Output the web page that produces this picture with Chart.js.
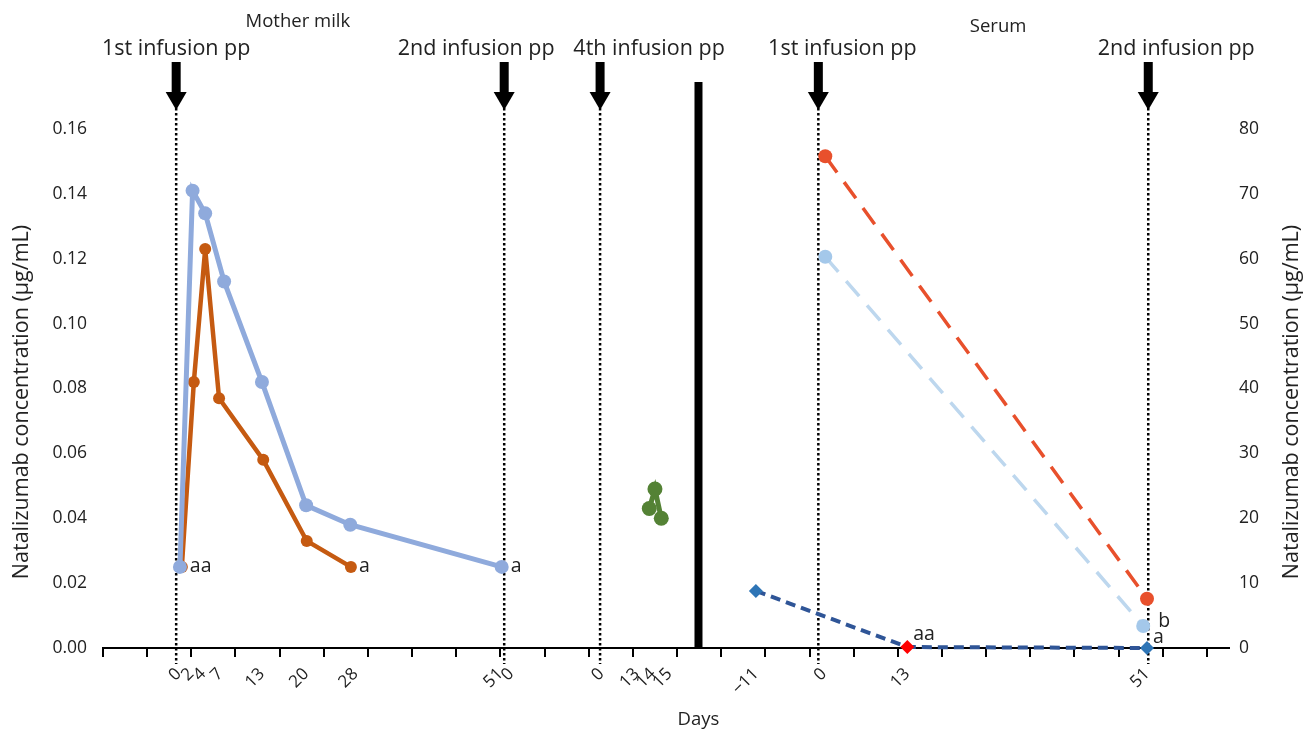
<!DOCTYPE html>
<html>
<head>
<meta charset="utf-8">
<script src="https://cdn.jsdelivr.net/npm/chart.js@4.4.1/dist/chart.umd.min.js"></script>
<style>
  html, body { margin: 0; padding: 0; background: #fff; }
</style>
</head>
<body>
<canvas id="natGraph" width="1307" height="732"></canvas>
<script>
// x is one shared "days" axis; each panel starts at its own place on it
const milkStart = 12.2;
const serumStart = 114.5;

// mother milk
const milkBlueDays = [0, 2, 4, 7, 13, 20, 27, 51];
const milkBlue = [0.025, 0.141, 0.134, 0.113, 0.082, 0.044, 0.038, 0.025];
const milkOrangeDays = [0.3, 2.2, 4, 6.2, 13.2, 20.1, 27.1];
const milkOrange = [0.025, 0.082, 0.123, 0.077, 0.058, 0.033, 0.025];
// after 4th infusion (axis positions)
const fourthGreenX = [86.6, 87.5, 88.5];
const fourthGreen = [0.043, 0.049, 0.040];

// serum (right axis)
const serumRedDays = [0, 51];
const serumRed = [75.8, 7.6];
const serumLightDays = [0, 50.4];
const serumLight = [60.3, 3.4];
const serumBlueDays = [-11, 13, 51];
const serumBlue = [8.8, 0.15, 0];

// day labels under the axis (axis positions)
const dayLabels = ["0", "2", "4", "7", "13", "20", "28", "51", "0", "0", "13", "14", "15", "\u221211", "0", "13", "51"];
const dayLabelPos = [12.0, 14.0, 15.9, 18.6, 25.2, 32.2, 40.0, 63.0, 64.7, 79.0, 84.6, 87.2, 89.8, 103.5, 114.3, 127.5, 165.5];

// infusions
const infusionPos = [11.6, 63.6, 78.8, 113.4, 165.7];
const infusionText = ["1st infusion pp", "2nd infusion pp", "4th infusion pp", "1st infusion pp", "2nd infusion pp"];
const dividerPos = 94.4;

const pts = (xs, ys, start) => xs.map((d, i) => ({ x: start + d, y: ys[i] }));

Chart.defaults.font.family = "'Open Sans', sans-serif";
Chart.defaults.color = "#222";

// little letters next to points
const notes = [
  { ds: 1, i: 0, text: "aa", dx: 8, dy: 0 },
  { ds: 1, i: 6, text: "a", dx: 8, dy: 0 },
  { ds: 0, i: 7, text: "a", dx: 9, dy: 0 },
  { ds: 5, i: 1, text: "aa", dx: 6, dy: -13 },
  { ds: 4, i: 1, text: "b", dx: 15, dy: -5 },
  { ds: 5, i: 2, text: "a", dx: 6, dy: -11 },
];

const decor = {
  id: "decor",
  beforeDatasetsDraw(chart) {
    const { ctx, chartArea: a, scales } = chart;
    const x = scales.x;
    ctx.save();
    // dotted infusion lines
    ctx.strokeStyle = "#000";
    ctx.lineWidth = 2.5;
    ctx.setLineDash([2.5, 2.5]);
    infusionPos.forEach((p) => {
      const px = x.getPixelForValue(p);
      ctx.beginPath();
      ctx.moveTo(px, a.top - 21);
      ctx.lineTo(px, a.bottom + 16);
      ctx.stroke();
    });
    ctx.setLineDash([]);
    // thick divider between panels
    const dx = x.getPixelForValue(dividerPos);
    ctx.fillStyle = "#000";
    ctx.fillRect(dx - 4, a.top - 47, 8, a.bottom - a.top + 47);
    ctx.restore();
  },
  afterDraw(chart) {
    const { ctx, chartArea: a, scales } = chart;
    const x = scales.x;
    ctx.save();
    ctx.fillStyle = "#000";
    // arrows + captions
    const shift = [0, -28, 49, 24, 28];
    infusionPos.forEach((p, k) => {
      const px = x.getPixelForValue(p);
      ctx.fillStyle = "#000";
      ctx.fillRect(px - 4.5, a.top - 67, 9, 33);
      ctx.beginPath();
      ctx.moveTo(px - 10.5, a.top - 37);
      ctx.lineTo(px + 10.5, a.top - 37);
      ctx.lineTo(px, a.top - 19);
      ctx.closePath();
      ctx.fill();
      ctx.font = "21.5px 'Open Sans'";
      ctx.fillStyle = "#222";
      ctx.textAlign = "center";
      ctx.textBaseline = "middle";
      ctx.fillText(infusionText[k], px + shift[k], 49);
    });
    ctx.fillStyle = "#222";
    ctx.font = "18.5px 'Open Sans'";
    ctx.textAlign = "center";
    ctx.textBaseline = "middle";
    ctx.fillText("Mother milk", x.getPixelForValue(30.9), 22);
    ctx.fillText("Serum", x.getPixelForValue(141.9), 27);
    ctx.fillText("Days", x.getPixelForValue(dividerPos), 720);

    // axis titles
    ctx.font = "21.5px 'Open Sans'";
    [22, 1292].forEach((tx) => {
      ctx.save();
      ctx.translate(tx, 402);
      ctx.rotate(-Math.PI / 2);
      ctx.fillText("Natalizumab concentration (\u00b5g/mL)", 0, 0);
      ctx.restore();
    });

    // point notes
    ctx.font = "19.5px 'Open Sans'";
    ctx.textAlign = "left";
    notes.forEach((n) => {
      const el = chart.getDatasetMeta(n.ds).data[n.i];
      ctx.fillText(n.text, el.x + n.dx, el.y + n.dy);
    });
    ctx.restore();
  },
};

const natGraph = document.getElementById("natGraph").getContext("2d");
const natChart = new Chart(natGraph, {
  type: "line",
  data: {
    datasets: [
      {
        label: "Milk 1",
        data: pts(milkBlueDays, milkBlue, milkStart),
        borderColor: "#8FAADC",
        backgroundColor: "#8FAADC",
        borderWidth: 5,
        pointRadius: 7,
        yAxisID: "y",
      },
      {
        label: "Milk 2",
        data: pts(milkOrangeDays, milkOrange, milkStart),
        borderColor: "#C55A11",
        backgroundColor: "#C55A11",
        borderWidth: 4.5,
        pointRadius: 6,
        yAxisID: "y",
      },
      {
        label: "Milk 3",
        data: pts(fourthGreenX, fourthGreen, 0),
        borderColor: "#548235",
        backgroundColor: "#548235",
        borderWidth: 5,
        pointRadius: 7.5,
        yAxisID: "y",
      },
      {
        label: "Serum 1",
        data: pts(serumRedDays, serumRed, serumStart),
        borderColor: "#E8502C",
        backgroundColor: "#E8502C",
        borderWidth: 3.5,
        borderDash: [20, 12],
        pointRadius: 7,
        yAxisID: "y2",
      },
      {
        label: "Serum 2",
        data: pts(serumLightDays, serumLight, serumStart),
        borderColor: "#BDD7EE",
        backgroundColor: "#A4C8EA",
        borderWidth: 3.5,
        borderDash: [20, 12],
        pointRadius: 7,
        yAxisID: "y2",
      },
      {
        label: "Serum 3",
        data: pts(serumBlueDays, serumBlue, serumStart),
        borderColor: "#2F5597",
        backgroundColor: ["#2E75B6", "#FF0000", "#2E75B6"],
        borderWidth: 4,
        borderDash: [10, 6],
        pointStyle: "rectRot",
        pointRadius: 7,
        yAxisID: "y2",
      },
    ].map((d) => ({ ...d, pointBorderWidth: 0, pointHoverBorderWidth: 0 })),
  },
  options: {
    responsive: false,
    animation: false,
    clip: false,
    layout: { padding: { top: 129, left: 0, right: 0, bottom: 0 } },
    elements: { line: { tension: 0 } },
    plugins: { legend: { display: false }, tooltip: { enabled: false } },
    scales: {
      x: {
        type: "linear",
        position: "bottom",
        min: 0,
        max: 178.5,
        weight: 0,
        ticks: { display: false, stepSize: 7, includeBounds: false },
        grid: { drawOnChartArea: false, drawTicks: true, tickLength: 9, color: "#000", lineWidth: 2 },
        border: { display: true, color: "#000", width: 2 },
        afterFit: (s) => { s.height = 10; },
      },
      days: {
        type: "linear",
        position: "bottom",
        min: 0,
        max: 178.5,
        weight: 1,
        afterBuildTicks: (s) => { s.ticks = dayLabelPos.map((v) => ({ value: v })); },
        ticks: {
          autoSkip: false,
          minRotation: 45,
          maxRotation: 45,
          padding: 6,
          font: { size: 17 },
          callback: (v, i) => dayLabels[i],
        },
        grid: { display: false, drawTicks: false },
        border: { display: false },
        afterFit: (s) => { s.height = 74; },
      },
      y: {
        position: "left",
        min: 0,
        max: 0.16,
        ticks: { stepSize: 0.02, padding: 16, font: { size: 17.5 }, callback: (v) => v.toFixed(2) },
        grid: { display: false, drawTicks: false },
        border: { display: false },
        afterFit: (s) => { s.width = 103; },
      },
      y2: {
        position: "right",
        min: 0,
        max: 80,
        ticks: { stepSize: 10, padding: 10, font: { size: 17.5 } },
        grid: { display: false, drawTicks: false },
        border: { display: false },
        afterFit: (s) => { s.width = 78; },
      },
    },
  },
  plugins: [decor],
});
</script>
</body>
</html>
